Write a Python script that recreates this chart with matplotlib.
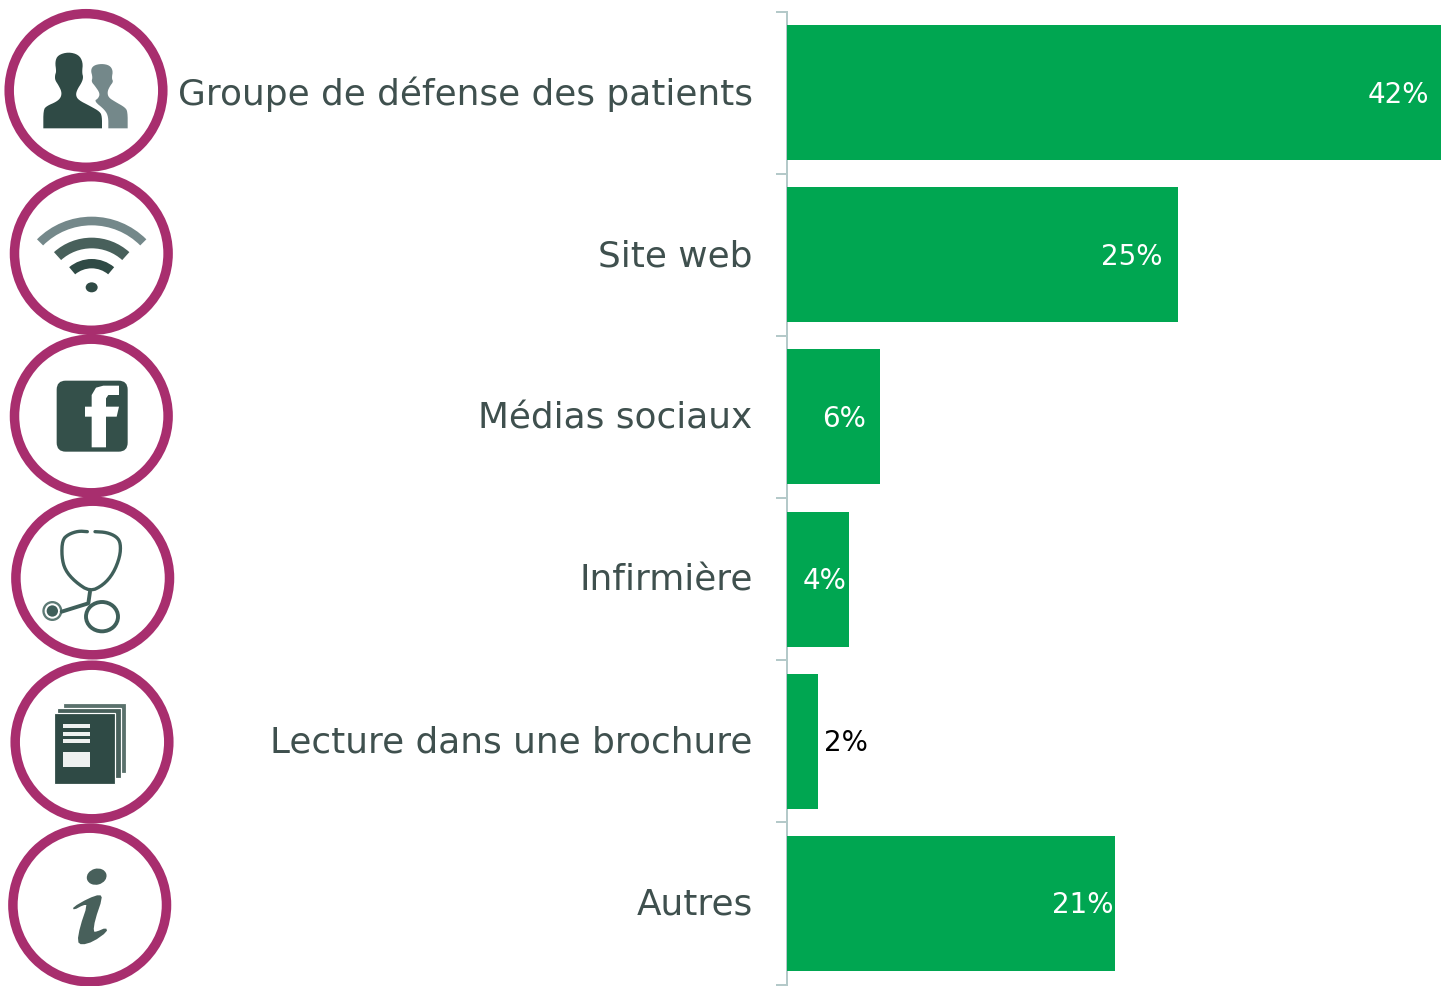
# Sources of information chart with round icons
import numpy as np
import matplotlib.pyplot as plt
from matplotlib.patches import Circle, Ellipse, Wedge, Polygon, Rectangle, FancyBboxPatch
from matplotlib.transforms import ScaledTranslation

# Data
categories = ['Groupe de défense des patients', 'Site web', 'Médias sociaux',
              'Infirmière', 'Lecture dans une brochure', 'Autres']
values = [42, 25.1, 6, 4, 2, 21.1]
value_labels = ['42%', '25%', '6%', '4%', '2%', '21%']

# Colours
GREEN = '#00a651'
RING = '#a82e6e'
TEXT = '#3f504e'
AXIS = '#b4c9c9'
DARK = '#2f4a45'
MID = '#48605b'
LIGHT = '#74888a'

W, H = 1441, 986
PX = 72 / 100  # one pixel in points

fig = plt.figure(figsize=(W / 100, H / 100), dpi=100, facecolor='white')

# Bars
ax = fig.add_axes([786.5 / W, 1 - 984.5 / H, 654.5 / W, 973 / H])
y = np.arange(len(categories))
ax.barh(y, values, height=135 / 162, color=GREEN, zorder=3)
ax.set_xlim(0, 42)
ax.set_ylim(5.5, -0.5)
ax.set_xticks([])

ax.set_yticks(np.arange(len(categories) + 1) - 0.5, labels=[''] * (len(categories) + 1))
ax.set_yticks(y, labels=categories, minor=True)
ax.tick_params(axis='y', which='major', length=11 * PX, width=2 * PX, color=AXIS)
ax.tick_params(axis='y', which='minor', length=0, pad=34 * PX, labelsize=25.8, labelcolor=TEXT)

# labels sit a little higher than the centre of the bars
nudge = ScaledTranslation(0, 2 / 100, fig.dpi_scale_trans)
for label in ax.get_yticklabels(minor=True):
    label.set_transform(label.get_transform() + nudge)

for side in ['top', 'right', 'bottom']:
    ax.spines[side].set_visible(False)
ax.spines['left'].set_color(AXIS)
ax.spines['left'].set_linewidth(2 * PX)

# Value labels, offsets in pixels from the bar end
offsets = [-12, -15, -14, -2, 6, -2]
for i in range(len(values)):
    inside = offsets[i] < 0
    ax.annotate(value_labels[i], (values[i], i), xytext=(offsets[i] * PX, -2 * PX),
                textcoords='offset points', va='center',
                ha='right' if inside else 'left',
                color='white' if inside else 'black', fontsize=20)

# Overlay in pixel coordinates for the icons
ic = fig.add_axes([0, 0, 1, 1], facecolor='none')
ic.set_xlim(0, W)
ic.set_ylim(H, 0)
ic.axis('off')

rings = [(86, 90.5), (91.3, 253.5), (91.3, 416), (92.7, 578), (92, 742), (89.7, 905)]
for c in rings:
    ic.add_patch(Circle(c, 76.8, fill=False, edgecolor=RING, linewidth=9.5 * PX))


def smooth(points, n=2, closed=True):
    # corner cutting so the outlines are not too angular
    p = np.array(points, dtype=float)
    for k in range(n):
        if closed:
            q = np.roll(p, -1, axis=0)
            p = np.column_stack([0.75 * p + 0.25 * q, 0.25 * p + 0.75 * q]).reshape(-1, 2)
        else:
            a, b = p[:-1], p[1:]
            mid = np.column_stack([0.75 * a + 0.25 * b, 0.25 * a + 0.75 * b]).reshape(-1, 2)
            p = np.vstack([p[0], mid, p[-1]])
    return p


def zoomed(points, oy=0):
    p = np.array(points, dtype=float) / 3
    p[:, 1] += oy
    return p


# People icon
big = [(130, 385), (130, 330), (140, 318), (170, 305), (183, 292), (185, 275), (175, 255),
       (165, 240), (165, 225), (169, 215), (165, 185), (174, 165), (205, 156), (236, 164),
       (249, 187), (246, 218), (250, 232), (245, 248), (232, 268), (227, 285), (235, 300),
       (270, 318), (300, 335), (306, 350), (306, 385)]
small = [(325, 385), (325, 350), (315, 330), (282, 303), (295, 295), (300, 280), (285, 258),
         (274, 245), (278, 232), (272, 210), (281, 196), (305, 191), (329, 196), (339, 212),
         (335, 235), (340, 245), (330, 258), (322, 275), (325, 292), (345, 305), (375, 322),
         (383, 335), (383, 385)]
ic.add_patch(Polygon(smooth(zoomed(small), 2, closed=False), closed=True, color=LIGHT, lw=0))
ic.add_patch(Polygon(smooth(zoomed(big), 2, closed=False), closed=True, color=DARK, lw=0))

# Wifi icon
cx, cy = 275 / 3, 882 / 3
for r, wd, half, col in [(232, 26, 45, LIGHT), (169, 32, 42, MID), (105, 28, 40, DARK)]:
    ic.add_patch(Wedge((cx, cy), r / 3, 270 - half, 270 + half, width=wd / 3, color=col, lw=0))
ic.add_patch(Ellipse((275 / 3, 862 / 3), 36 / 3, 30 / 3, color=DARK, lw=0))

# Facebook icon
ic.add_patch(FancyBboxPatch((170 / 3, 340 + 122 / 3), 213 / 3, 213 / 3,
                            boxstyle='round,pad=0,rounding_size=9', color='#34504a', lw=0))
f_shape = [(275, 322), (318, 322), (318, 230), (350, 230), (357, 200), (318, 200), (318, 175),
           (325, 165), (357, 165), (357, 137), (310, 137), (288, 143), (275, 165), (275, 200),
           (255, 200), (255, 230), (275, 230)]
ic.add_patch(Polygon(zoomed(f_shape, 340), closed=True, color='white', lw=0))

# Stethoscope icon
tube = [(262, 575), (235, 573), (205, 583), (187, 600), (185, 650), (195, 690), (225, 725),
        (270, 755), (310, 735), (340, 700), (360, 650), (362, 610), (350, 590), (320, 577),
        (285, 575)]
p = smooth(zoomed(tube, 340), 2, closed=False)
ic.plot(p[:, 0], p[:, 1], color='#3f5f5a', lw=2.4, solid_capstyle='round')
p = zoomed([(270, 755), (265, 790), (185, 815)], 340)
ic.plot(p[:, 0], p[:, 1], color='#3f5f5a', lw=2.8, solid_capstyle='round')
ic.add_patch(Ellipse((306 / 3, 340 + 830 / 3), 96 / 3, 88 / 3, fill=False,
                     edgecolor='#3f5f5a', lw=2.8))
ic.add_patch(Circle((157 / 3, 340 + 813 / 3), 30 / 3, color='#5d7a75', lw=0))
ic.add_patch(Circle((157 / 3, 340 + 813 / 3), 23 / 3, color='white', lw=0))
ic.add_patch(Circle((157 / 3, 340 + 813 / 3), 17 / 3, color='#3f5f5a', lw=0))

# Brochure icon
for x0, y0, x1, y1, col in [(190, 130, 378, 340, '#5a716c'), (172, 145, 362, 355, '#48605b'),
                            (162, 160, 345, 372, DARK)]:
    ic.add_patch(Rectangle((x0 / 3, 660 + y0 / 3), (x1 - x0) / 3, (y1 - y0) / 3,
                           facecolor=col, edgecolor='white', lw=1.2 * PX))
for y0, y1 in [(193, 205), (215, 227), (236, 248), (277, 322)]:
    ic.add_patch(Rectangle((190 / 3, 660 + y0 / 3), 80 / 3, (y1 - y0) / 3,
                           color='#eef1f0', lw=0))

# Info icon
i_body = [(218, 742), (265, 715), (300, 703), (307, 715), (285, 780), (280, 815), (290, 815),
          (318, 803), (322, 815), (280, 845), (245, 855), (232, 845), (240, 800), (262, 735),
          (250, 735), (222, 750)]
ic.add_patch(Polygon(smooth(zoomed(i_body, 660), 1), closed=True, color=MID, lw=0))
ic.add_patch(Ellipse((290 / 3, 660 + 650 / 3), 60 / 3, 48 / 3, angle=-15, color=MID, lw=0))

fig.savefig('out.png', dpi=100)
